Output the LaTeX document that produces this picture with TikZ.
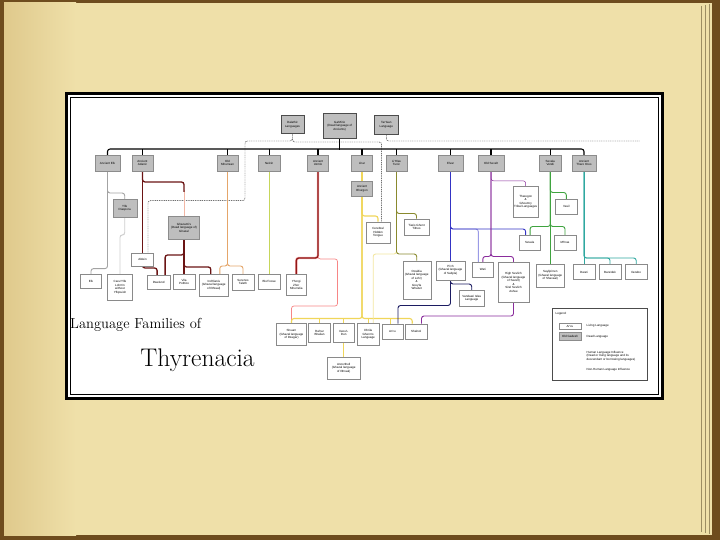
\documentclass[tikz,border=0pt]{standalone}
\usepackage{fontspec}
\newfontfamily\boxfont{Liberation Sans}
\usepackage{xcolor}
\definecolor{cPaper}{HTML}{EFE0A9}
\definecolor{cPaperDark}{HTML}{DFC98C}
\definecolor{cCover}{HTML}{6E4C1E}
\definecolor{cDead}{HTML}{BEBEBE}
\definecolor{cDeadLine}{HTML}{8C8C8C}
\definecolor{cLiveLine}{HTML}{8A8A8A}
\definecolor{cElk}{HTML}{A3A3A3}
\definecolor{cElkLight}{HTML}{CFCFCF}
\definecolor{cAdanic}{HTML}{6B1414}
\definecolor{cSalmon}{HTML}{F2B7A5}
\definecolor{cOrange}{HTML}{E5A66A}
\definecolor{cLime}{HTML}{C6D65A}
\definecolor{cRed}{HTML}{8E1818}
\definecolor{cGlow}{HTML}{F5A8A8}
\definecolor{cYellow}{HTML}{F0D65A}
\definecolor{cPaleYellow}{HTML}{F3E7A0}
\definecolor{cOlive}{HTML}{8A8A2E}
\definecolor{cBlue}{HTML}{3434C4}
\definecolor{cPeri}{HTML}{9A9AE6}
\definecolor{cNavy}{HTML}{1C1C62}
\definecolor{cPurple}{HTML}{8A2C9C}
\definecolor{cGreen}{HTML}{3FA33F}
\definecolor{cTeal}{HTML}{2FA8A0}
\usepackage{tikz}
\usetikzlibrary{shadows}
\pgfdeclarelayer{paper}
\pgfdeclarelayer{wires}
\pgfsetlayers{paper,wires,main}
\tikzset{
  lang-root/.style={draw=black!70,line width=0.9pt,fill=cDead,
    drop shadow={shadow xshift=0.8pt,shadow yshift=-0.8pt,fill=black!35},
    align=center,inner sep=0.4pt,font=\boxfont\fontsize{3}{3.5}\selectfont},
  lang-dead/.style={draw=cDeadLine,line width=0.4pt,fill=cDead,
    minimum height=15.5pt,
    drop shadow={shadow xshift=0.6pt,shadow yshift=-0.6pt,fill=black!25},
    align=center,inner sep=0.4pt,font=\boxfont\fontsize{3}{3.5}\selectfont},
  lang-live/.style={draw=cLiveLine,line width=0.4pt,fill=white,
    align=center,inner sep=0.4pt,font=\boxfont\fontsize{3}{3.5}\selectfont},
  legend-text/.style={anchor=west,inner sep=0pt,align=left,
    font=\boxfont\fontsize{3}{3.5}\selectfont},
  wire/.style={rounded corners=2.5pt,line width=0.9pt},
  wire-human/.style={wire,line width=1.1pt,draw=black},
  wire-nonhuman/.style={rounded corners=2.5pt,line width=0.45pt,
    draw=black!85,dash pattern=on 1pt off 0.8pt},
  wire-elk/.style={wire,draw=cElk},
  wire-elk-light/.style={wire,draw=cElkLight},
  wire-adanic/.style={wire,line width=1.3pt,draw=cAdanic},
  wire-salmon/.style={wire,draw=cSalmon},
  wire-orange/.style={wire,draw=cOrange},
  wire-lime/.style={wire,draw=cLime},
  wire-red/.style={wire,line width=1.2pt,draw=cRed,
    preaction={draw=cGlow,line width=2.4pt}},
  wire-pink/.style={wire,line width=0.7pt,draw=cGlow!80!red},
  wire-yellow/.style={wire,line width=1.1pt,draw=cYellow},
  wire-pale/.style={wire,draw=cPaleYellow},
  wire-olive/.style={wire,draw=cOlive},
  wire-blue/.style={wire,draw=cBlue},
  wire-peri/.style={wire,draw=cPeri},
  wire-navy/.style={wire,draw=cNavy},
  wire-purple/.style={wire,draw=cPurple},
  wire-purple-thin/.style={wire,line width=0.5pt,draw=cPurple},
  wire-green/.style={wire,draw=cGreen},
  wire-teal/.style={wire,draw=cTeal},
}

\begin{document}
\begin{tikzpicture}[x=1pt,y=-1pt]
  \useasboundingbox (0,0) rectangle (720,540);
  \begin{pgfonlayer}{paper}
    % book page
    \fill[cCover] (0,0) rectangle (720,540);
    \fill[cPaper] (4,3) rectangle (712,535);
    \shade[left color=cPaperDark,right color=cPaper] (4,3) rectangle (76,535);
    \draw[cPaperDark!70!black,line width=0.4pt] (701,6) -- (701,532);
    \draw[cPaperDark!70!black,line width=0.4pt] (705,5) -- (705,533);
    \draw[cPaperDark!70!black,line width=0.4pt] (709,4) -- (709,534);
    % framed chart
    \fill[white] (66.5,93.5) rectangle (662,398);
    \draw[line width=3pt] (66.5,93.5) rectangle (662,398);
    \draw[line width=0.7pt] (70,97) rectangle (658.5,394.5);
  \end{pgfonlayer}

  % roots
  \node[lang-root,minimum width=23pt,minimum height=17.5pt] (dalathic) at (292.5,124.5) {Dalathic\\Languages};
  \node[lang-root,minimum width=33pt,minimum height=25pt] (gamirio) at (339.7,125.8) {Ga'Mirio\\(Dead language of\\Ancients)};
  \node[lang-root,minimum width=24pt,minimum height=18.6pt] (targan) at (386.3,125) {Tar'Gan\\Language};

  % old families
  \node[lang-dead,minimum width=25pt] (elk) at (107.5,163) {Ancient Elk};
  \node[lang-dead,minimum width=21.6pt] (adanic) at (142.5,163) {Ancient\\Adanic};
  \node[lang-dead,minimum width=21pt] (mhurrean) at (227.5,163) {Old\\Mhurrean};
  \node[lang-dead,minimum width=22.5pt] (nelcin) at (269.2,163) {Nelcin};
  \node[lang-dead,minimum width=21pt] (uzmlo) at (318,163) {Ancient\\Uzmlo};
  \node[lang-dead,minimum width=21pt] (lhar) at (362,163) {Lhar};
  \node[lang-dead,minimum width=21pt] (lihlas) at (396.5,163) {Li'Hlas\\Tunic};
  \node[lang-dead,minimum width=24.5pt] (elvar) at (450.5,163) {Elvar};
  \node[lang-dead,minimum width=26pt] (sevelt) at (491,163) {Old Sevelt};
  \node[lang-dead,minimum width=22pt] (vendi) at (550.3,163) {Sevala\\Vendi};
  \node[lang-dead,minimum width=24.3pt] (tharo) at (584,163) {Ancient\\Tharo Ores};

  \node[lang-dead,minimum width=24pt,minimum height=17.3pt] (diaspora) at (124.7,208.2) {Ylfe\\Diaspora};
  \node[lang-dead,minimum width=31pt,minimum height=23pt] (ghazami) at (184,227.5) {Ghazami's\\(Dead language of)\\Ghazal};
  \node[lang-dead,minimum width=21pt,minimum height=15.5pt] (bhurgon) at (362,188.5) {Ancient\\Bhurgon};

  % living languages
  \node[lang-live,minimum width=21.7pt,minimum height=13pt] (aldin) at (142.5,259.5) {Aldein};
  \node[lang-live,minimum width=21pt,minimum height=14pt] (elkl) at (91,281.4) {Elk};
  \node[lang-live,minimum width=25pt,minimum height=26pt] (cavu) at (120,287) {Cavu'Ylfe\\Lohm'n\\without\\Ylfqouish};
  \node[lang-live,minimum width=22.7pt,minimum height=14pt] (dwelund) at (158.6,282) {Dwelund};
  \node[lang-live,minimum width=22pt,minimum height=14.6pt] (vila) at (184,281.7) {Vila\\Polttico};
  \node[lang-live,minimum width=28.5pt,minimum height=21.6pt] (indil) at (213.8,285.2) {Ind'Ilianis\\(Ghazal language\\of Ilthraal)};
  \node[lang-live,minimum width=22pt,minimum height=15.6pt] (sereno) at (243,282.2) {Serenos\\Taleth};
  \node[lang-live,minimum width=21.5pt,minimum height=14.6pt] (blufoss) at (269.2,281.7) {Blu'Fosse};
  \node[lang-live,minimum width=20.7pt,minimum height=21pt] (yhorgi) at (296.3,285) {Yhorgi\\Zhor\\Mhurrelia};
  \node[lang-live,minimum width=24pt,minimum height=21.5pt] (cerebral) at (378,232.7) {Cerebral\\Hidden\\Tongue};
  \node[lang-live,minimum width=25pt,minimum height=16.5pt] (tiaris) at (416.5,227) {Tiaris Ghent\\Tithes};
  \node[lang-live,minimum width=28pt,minimum height=38.3pt] (ossidia) at (416.7,280) {Ossidia\\(Ghazal language\\of Lohr)\\\&\\Grey'la\\Whatsit};
  \node[lang-live,minimum width=28.6pt,minimum height=19pt] (pich) at (450.5,270.2) {Pi'ch\\(Ghazal language\\of Sabyla)};
  \node[lang-live,minimum width=21.6pt,minimum height=15pt] (wari) at (482.8,269.5) {Wari};
  \node[lang-live,minimum width=25.4pt,minimum height=15.5pt] (vandaari) at (471.7,298) {Vandaari Islas\\Language};
  \node[lang-live,minimum width=31pt,minimum height=40pt] (sevlich) at (513.5,282.4) {High Sevlich\\(Ghazal language\\of Sevelt)\\\&\\Sirel Sevlich\\Ashue};
  \node[lang-live,minimum width=25.5pt,minimum height=31pt] (tharegon) at (525.7,201.5) {Tharegon\\\&\\Ghoumry\\Tribal Languages};
  \node[lang-live,minimum width=21.5pt,minimum height=15.2pt] (vasil) at (566.3,206.6) {Vasil};
  \node[lang-live,minimum width=21.6pt,minimum height=14.5pt] (sevala) at (529.6,242.5) {Sevala};
  \node[lang-live,minimum width=22pt,minimum height=14.8pt] (mhras) at (565,242.6) {Mh'ras};
  \node[lang-live,minimum width=28.4pt,minimum height=22.3pt] (saylip) at (550.3,275.6) {Saylipi'nen\\(Ghazal language\\of Shavaal)};
  \node[lang-live,minimum width=22pt,minimum height=15pt] (dwari) at (584,272) {Dwari};
  \node[lang-live,minimum width=22pt,minimum height=15pt] (baradek) at (610,272) {Bara'dek};
  \node[lang-live,minimum width=22.4pt,minimum height=15pt] (ilezebo) at (636.2,272) {Ilezebo};
  \node[lang-live,minimum width=30.3pt,minimum height=21.7pt] (shuarn) at (291.5,334.5) {Shuarn\\(Ghazal language\\of Dzagar)};
  \node[lang-live,minimum width=22pt,minimum height=19pt] (rahar) at (319.5,333) {Ra'har\\Bhalian};
  \node[lang-live,minimum width=21.6pt,minimum height=19pt] (xeoul) at (343.7,333) {Xeou'L\\Dun};
  \node[lang-live,minimum width=22pt,minimum height=21.7pt] (dhrila) at (368.2,334.5) {Dhrila\\Ghenn's\\Language};
  \node[lang-live,minimum width=21pt,minimum height=15.5pt] (arcu) at (392.5,331.5) {Ar'cu};
  \node[lang-live,minimum width=21.6pt,minimum height=15.5pt] (shalnol) at (416.2,331.5) {Shalnol};
  \node[lang-live,minimum width=33.4pt,minimum height=21.8pt] (anzor) at (343.7,368) {Anzorthell\\(Ghazal language\\of Ilthraal)};

  % title
  \node[anchor=west,inner sep=0pt,font=\fontsize{14.5}{14.5}\selectfont] (title-top) at (70,325) {Language Families of};
  \node[inner sep=0pt,font=\fontsize{25.5}{25.5}\selectfont] (title-main) at (197.5,360) {Thyrenacia};

  % legend
  \node[draw=black!70,line width=0.5pt,fill=white,minimum width=94.6pt,minimum height=72.4pt] (legend) at (600,344.5) {};
  \node[legend-text] (legend-title) at (555.5,314) {Legend:};
  \node[lang-live,minimum width=21.4pt,minimum height=6.6pt] (legend-live) at (570,326) {Ar'cu};
  \node[legend-text] at (586.5,326) {Living Language};
  \node[lang-dead,minimum width=21.4pt,minimum height=7.7pt] (legend-dead) at (570,336.2) {Old Gadesh};
  \node[legend-text] at (586.5,336.5) {Dead Language};
  \coordinate (legend-human-a) at (559.3,353.3);
  \coordinate (legend-human-b) at (580.7,353.3);
  \node[legend-text] at (586.5,356) {Human Language Influence\\(Dead or living language and its\\descendant or borrowing languages)};
  \coordinate (legend-other-a) at (559.3,370);
  \coordinate (legend-other-b) at (580.7,370);
  \node[legend-text] at (586.5,370) {Non-Human Language Influence};
  \coordinate (nh-end) at (640,141);

  \begin{pgfonlayer}{wires}
    \draw[wire-human] (legend-human-a) -- (legend-human-b);
    \draw[wire-nonhuman] (legend-other-a) -- (legend-other-b);

    % main bus
    \draw[wire-human] (gamirio.south) -- ++(0,11);
    \draw[wire-human] (elk.north) -- ++(0,-6) -| (tharo.north);
    \draw[wire-human] (adanic.north) -- ++(0,-6);
    \draw[wire-human] (mhurrean.north) -- ++(0,-6);
    \draw[wire-human] (nelcin.north) -- ++(0,-6);
    \draw[wire-human] (uzmlo.north) -- ++(0,-6);
    \draw[wire-human] (lhar.north) -- ++(0,-6);
    \draw[wire-human] (lihlas.north) -- ++(0,-6);
    \draw[wire-human] (elvar.north) -- ++(0,-6);
    \draw[wire-human] (sevelt.north) -- ++(0,-6);
    \draw[wire-human] (vendi.north) -- ++(0,-6);

    % non-human influence
    \draw[wire-nonhuman] (dalathic.south) |- (245,141) -- (245,200.7) -| ([xshift=5.5pt]aldin.north);
    \draw[wire-nonhuman] (dalathic.south) |- (381.7,142) -- ([xshift=3.7pt]cerebral.north);
    \draw[wire-nonhuman] (targan.south) |- (nh-end);

    % elk
    \draw[wire-elk] (elk.south) -- (elk.south |- 0,268.6) -| (elkl.north);
    \draw[wire-elk] (elk.south) -- (elk.south |- 0,193) -| (diaspora.north);
    \draw[wire-elk-light] (diaspora.south) -- (diaspora.south |- 0,235) -| (cavu.north);

    % adanic
    \draw[wire-adanic] (adanic.south) -- (aldin.north);
    \draw[wire-adanic] (aldin.south) -- (aldin.south |- 0,268) -| ([xshift=-1.5pt]dwelund.north);
    \draw[wire-salmon] (ghazami.north |- 0,190) -- (ghazami.north);
    \draw[wire-adanic] (adanic.south) -- (adanic.south |- 0,182) -| (ghazami.north |- 0,192);
    \draw[wire-adanic] (ghazami.south) -- (vila.north);
    \draw[wire-adanic] (ghazami.south) -- (ghazami.south |- 0,255) -| ([xshift=6.5pt]dwelund.north);
    \draw[wire-adanic] (ghazami.south) -- (ghazami.south |- 0,267) -| ([xshift=-3pt]indil.north);

    % mhurrean
    \draw[wire-orange] (mhurrean.south) -- (mhurrean.south |- 0,266) -| ([xshift=6pt]indil.north);
    \draw[wire-orange] (mhurrean.south) -- (mhurrean.south |- 0,266) -| (sereno.north);

    % nelcin
    \draw[wire-lime] (nelcin.south) -- (blufoss.north);

    % uzmlo
    \draw[wire-pink] (uzmlo.south) -- (uzmlo.south |- 0,259) -- (337.5,259) -- (337.5,306) -| (shuarn.north);
    \draw[wire-red] (uzmlo.south) -- (uzmlo.south |- 0,258) -| (yhorgi.north);

    % lhar
    \draw[wire-yellow] (lhar.south) -- (bhurgon.north);
    \draw[wire-yellow] (bhurgon.south) -- (bhurgon.south |- 0,216) -| (cerebral.north);
    \draw[wire-yellow] (bhurgon.south) -- (bhurgon.south |- 0,318.5) -| (shuarn.north);
    \draw[wire-yellow] (bhurgon.south) -- (bhurgon.south |- 0,318.5) -| ([xshift=-4pt]shalnol.north);
    \draw[wire-yellow] (rahar.north) -- (rahar.north |- 0,318.5);
    \draw[wire-yellow] (xeoul.north) -- (xeoul.north |- 0,318.5);
    \draw[wire-yellow] (dhrila.north) -- (dhrila.north |- 0,318.5);
    \draw[wire-yellow] ([xshift=-2pt]arcu.north) -- ([xshift=-2pt]arcu.north |- 0,318.5);
    \draw[wire-yellow] (xeoul.south) -- (anzor.north);

    % li'hlas
    \draw[wire-pale] (lihlas.south) -- (lihlas.south |- 0,254) -| ([xshift=5pt]dhrila.north);
    \draw[wire-olive] (lihlas.south) -- (lihlas.south |- 0,213.5) -| (tiaris.north);
    \draw[wire-olive] (lihlas.south) -- (lihlas.south |- 0,254) -| (ossidia.north);

    % elvar
    \draw[wire-peri] (elvar.south) |- ([xshift=-4.5pt]wari.north |- 0,229) -- ([xshift=-4.5pt]wari.north);
    \draw[wire-blue] (elvar.south) -- (pich.north);
    \draw[wire-blue] (elvar.south) -- (elvar.south |- 0,229) -| ([xshift=-4pt]sevala.north);
    \draw[wire-navy] (pich.south) -- (pich.south |- 0,284) -| (vandaari.north);
    \draw[wire-navy] (pich.south) -- (pich.south |- 0,305.5) -| ([xshift=5.5pt]arcu.north);

    % old sevelt
    \draw[wire-purple-thin] (sevelt.south) -- (sevelt.south |- 0,180.8) -| (tharegon.north);
    \draw[wire-purple] (sevelt.south) -- (sevelt.south |- 0,256.5) -| (wari.north);
    \draw[wire-purple] (sevelt.south) -- (sevelt.south |- 0,256.5) -| (sevlich.north);
    \draw[wire-purple] (sevlich.south) -- (sevlich.south |- 0,316) -| ([xshift=5.3pt]shalnol.north);

    % sevala vendi
    \draw[wire-green] (vendi.south) -- (saylip.north);
    \draw[wire-green] (vendi.south) -- (vendi.south |- 0,192.5) -| (vasil.north);
    \draw[wire-green] (vendi.south) -- (vendi.south |- 0,226.5) -| (mhras.north);
    \draw[wire-green] (vendi.south) -- (vendi.south |- 0,226.5) -| ([xshift=0.5pt]sevala.north);

    % tharo ores
    \draw[wire-teal] (tharo.south) -- (dwari.north);
    \draw[wire-teal] (tharo.south) -- (tharo.south |- 0,258) -| (baradek.north);
    \draw[wire-teal] (tharo.south) -- (tharo.south |- 0,258) -| (ilezebo.north);
  \end{pgfonlayer}
\end{tikzpicture}
\end{document}
